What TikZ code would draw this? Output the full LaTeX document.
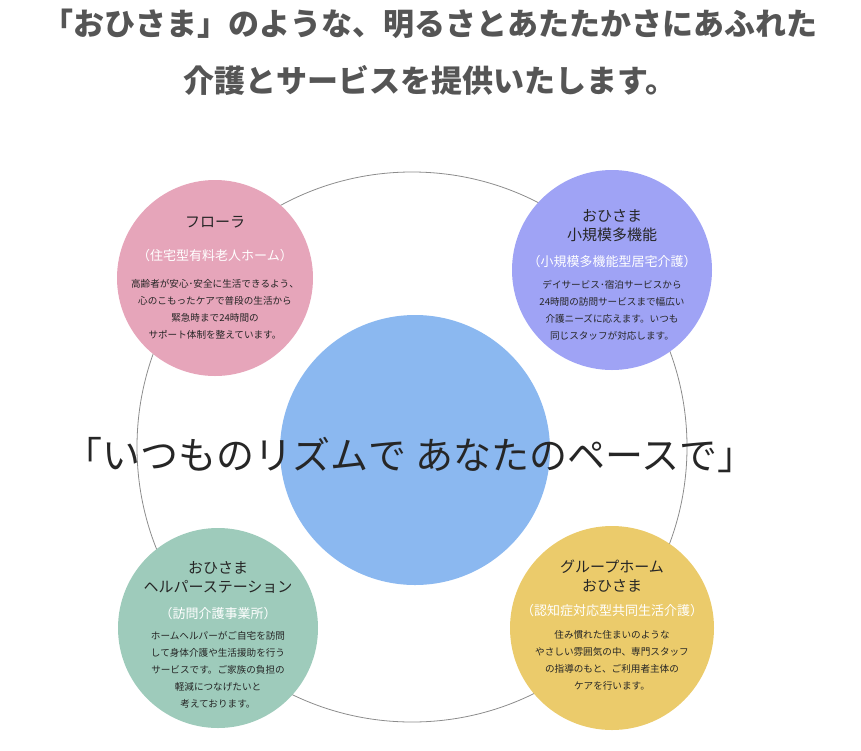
\documentclass[tikz,border=0pt]{standalone}
\usepackage{fontspec}
\setmainfont{Noto Sans CJK JP}
\newfontfamily\jpb{Noto Sans CJK JP Bold}
\begin{document}
\begin{tikzpicture}[x=1pt,y=-1pt]
\definecolor{pinkc}{HTML}{E6A5BA}
\definecolor{purpc}{HTML}{9FA3F5}
\definecolor{greenc}{HTML}{9ECBBB}
\definecolor{yelc}{HTML}{EBCB6B}
\definecolor{bluec}{HTML}{8BB8F0}
\definecolor{tgray}{HTML}{555555}
\tikzset{
 svc/.style={circle,minimum size=#1,inner sep=0pt},
 head/.style={align=center,font=\fontsize{15}{19}\selectfont,text=black!85},
 sub/.style={align=center,font=\fontsize{13}{16}\selectfont,text=white},
 body/.style={align=center,font=\fontsize{9.6}{17}\selectfont,text=black!85},
}
\useasboundingbox (0,0) rectangle (861,750);
\node (t1) [font=\fontsize{31}{34}\selectfont\bfseries,text=tgray] at (430,24) {「おひさま」のような、明るさとあたたかさにあふれた};
\node (t2) [font=\fontsize{31}{34}\selectfont\bfseries,text=tgray] at (430,80) {介護とサービスを提供いたします。};
\node (ring) [circle,draw=black!45,line width=0.8pt,minimum size=550,inner sep=0pt] at (412,447) {};
\node (c0) [svc=270,fill=bluec] at (415,450) {};
\node (c1) [svc=196,fill=pinkc] at (215,278) {};
\node (c2) [svc=200,fill=purpc] at (612,270) {};
\node (c3) [svc=200,fill=greenc] at (218,628) {};
\node (c4) [svc=204,fill=yelc] at (612,628) {};
\node (mid) [font=\fontsize{38}{40}\selectfont,text=black!85] at (410,455) {「いつものリズムで あなたのペースで」};
% pink
\node (h1) [head] at (215,222) {フローラ};
\node (s1) [sub] at (215,256) {（住宅型有料老人ホーム）};
\node (b1) [body] at (215,309) {高齢者が安心･安全に生活できるよう、\\心のこもったケアで普段の生活から\\緊急時まで24時間の\\サポート体制を整えています。};
% purple
\node (h2) [head] at (612,226) {おひさま\\小規模多機能};
\node (s2) [sub] at (612,262) {（小規模多機能型居宅介護）};
\node (b2) [body] at (612,310) {デイサービス･宿泊サービスから\\24時間の訪問サービスまで幅広い\\介護ニーズに応えます。いつも\\同じスタッフが対応します。};
% green
\node (h3) [head] at (218,577) {おひさま\\ヘルパーステーション};
\node (s3) [sub] at (218,614) {（訪問介護事業所）};
\node (b3) [body] at (218,670) {ホームヘルパーがご自宅を訪問\\して身体介護や生活援助を行う\\サービスです。ご家族の負担の\\軽減につなげたいと\\考えております。};
% yellow
\node (h4) [head] at (612,576) {グループホーム\\おひさま};
\node (s4) [sub] at (612,611) {（認知症対応型共同生活介護）};
\node (b4) [body] at (612,660) {住み慣れた住まいのような\\やさしい雰囲気の中、専門スタッフ\\の指導のもと、ご利用者主体の\\ケアを行います。};
\end{tikzpicture}
\end{document}
